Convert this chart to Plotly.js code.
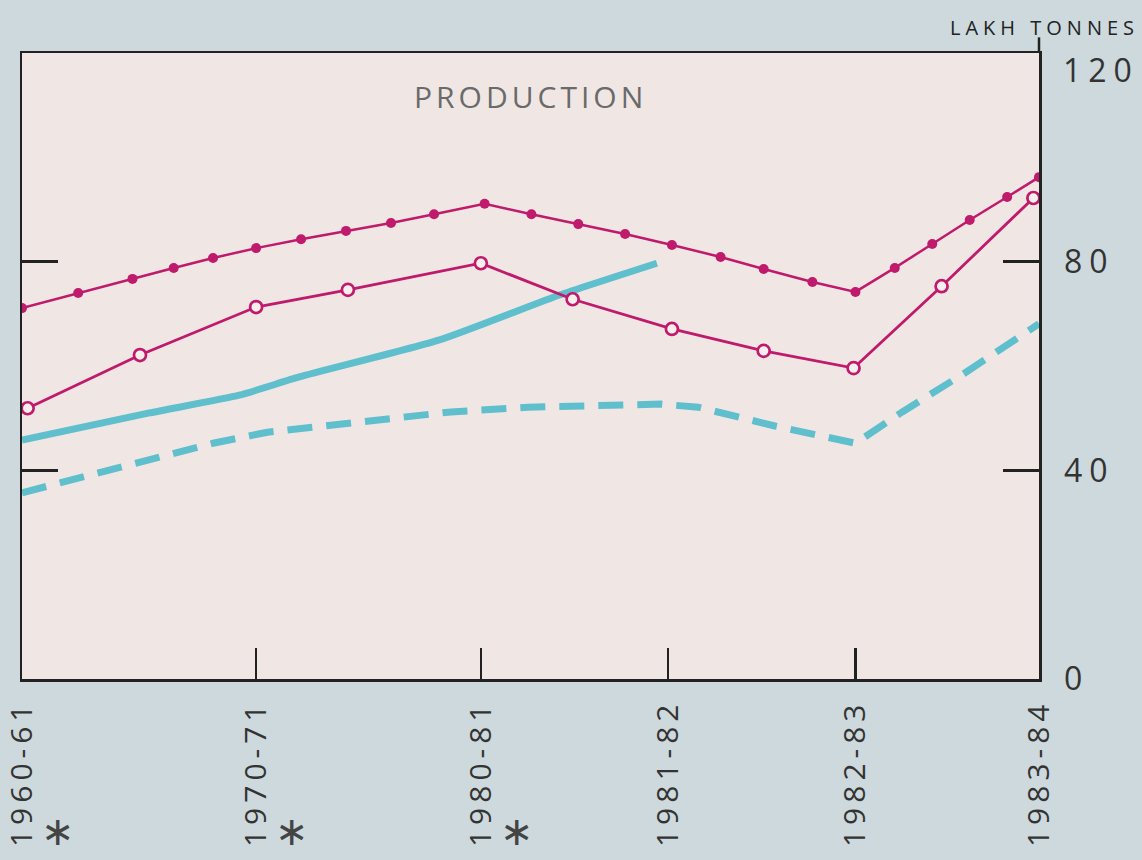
<!DOCTYPE html>
<html>
<head>
<meta charset="utf-8">
<script src="https://cdn.plot.ly/plotly-3.0.1.min.js"></script>
<style>
  html, body { margin: 0; padding: 0; background: #cdd9dc; }
  #chart { width: 1142px; height: 860px; }
  .xtick text { letter-spacing: 5px; }
  .ytick text { letter-spacing: 7px; }
  .annotation-text { letter-spacing: 4px; }
</style>
</head>
<body>
<div id="chart"></div>
<script>
// ---- data ----
const categories = ['1960-61', '1970-71', '1980-81', '1981-82', '1982-83', '1983-84'];
const categoryScale = [0, 1.25, 2.45, 3.45, 4.45, 5.43];
const footnoteMarks = ['∗', '∗', '∗', '', '', ''];

const dottedX = [0, 0.30, 0.59, 0.81, 1.02, 1.25, 1.49, 1.73, 1.97, 2.20, 2.47, 2.72, 2.97, 3.22, 3.47, 3.73, 3.96, 4.22, 4.45, 4.66, 4.86, 5.06, 5.26, 5.43];
const dottedY = [71.1, 74.0, 76.7, 78.8, 80.7, 82.6, 84.3, 85.9, 87.4, 89.1, 91.1, 89.1, 87.2, 85.3, 83.2, 80.9, 78.6, 76.1, 74.2, 78.8, 83.4, 88.0, 92.4, 96.2];

const circledX = [0.03, 0.63, 1.25, 1.74, 2.45, 2.94, 3.47, 3.96, 4.44, 4.91, 5.40];
const circledY = [51.9, 62.1, 71.3, 74.6, 79.7, 72.8, 67.1, 62.9, 59.6, 75.3, 92.2];

const solidX = [0, 0.68, 1.16, 1.48, 2.23, 2.87, 3.39];
const solidY = [45.8, 51.0, 54.4, 57.9, 65.0, 73.6, 79.7];

const dashedX = [0, 0.30, 0.68, 1.02, 1.31, 1.74, 2.29, 2.70, 3.09, 3.41, 3.61, 4.02, 4.45, 4.70, 5.04, 5.43];
const dashedY = [35.7, 38.5, 42.0, 45.2, 47.3, 49.1, 51.2, 52.1, 52.5, 52.7, 52.1, 48.5, 45.2, 51.2, 58.8, 68.1];

const yTicks = [0, 40, 80, 120];
const chartTitle = 'PRODUCTION';
const unitLabel = 'LAKH TONNES';

// ---- styles ----
const magenta = '#c01a6c';
const cyan = '#5fbfcd';
const font = 'Open Sans, Lato, sans-serif';
const yMax = yTicks[yTicks.length - 1];

const traces = [
  { x: dashedX, y: dashedY, type: 'scatter', mode: 'lines', name: 'dashed',
    line: { color: cyan, width: 7, dash: '25px,14px' } },
  { x: solidX, y: solidY, type: 'scatter', mode: 'lines', name: 'solid',
    line: { color: cyan, width: 7, shape: 'spline', smoothing: 0.5 } },
  { x: dottedX, y: dottedY, type: 'scatter', mode: 'lines+markers', name: 'dotted',
    line: { color: magenta, width: 2.5 },
    marker: { color: magenta, size: 10, symbol: 'circle' } },
  { x: circledX, y: circledY, type: 'scatter', mode: 'lines+markers', name: 'circled',
    line: { color: magenta, width: 2.8 },
    marker: { color: '#f6efec', size: 12, symbol: 'circle', line: { color: magenta, width: 2.7 } } }
];

const annotations = [
  { text: chartTitle, xref: 'paper', yref: 'paper', x: 0.5, y: 0.93, xanchor: 'center', yanchor: 'middle',
    showarrow: false, font: { family: font, size: 30, color: '#6a6a6a' } },
  { text: '<span style="letter-spacing:5px">' + unitLabel + '</span>', xref: 'paper', yref: 'paper',
    x: 1.1, y: 1.04, xanchor: 'right', yanchor: 'middle',
    showarrow: false, font: { family: font, size: 20, color: '#222' } },
  // top value label of the axis, sitting just below the top border as in the original
  { text: '<span style="letter-spacing:7px">' + String(yMax) + '</span>', xref: 'paper', yref: 'y',
    x: 1, y: yMax, xanchor: 'left', yanchor: 'middle', xshift: 22, yshift: -16,
    showarrow: false, font: { family: font, size: 32, color: '#333' } }
];
categories.forEach((c, i) => {
  if (footnoteMarks[i]) {
    annotations.push({ text: footnoteMarks[i], xref: 'x', yref: 'paper', x: categoryScale[i], xshift: 38,
      y: -0.243, xanchor: 'center', yanchor: 'middle', showarrow: false,
      font: { family: 'DejaVu Sans', size: 40, color: '#444' } });
  }
});

const layout = {
  width: 1142, height: 860,
  margin: { l: 22, r: 103, t: 53, b: 181 },
  paper_bgcolor: '#cdd9dc',
  plot_bgcolor: '#f0e7e4',
  showlegend: false,
  hovermode: false,
  xaxis: {
    range: [0, 5.43], type: 'linear',
    tickvals: categoryScale, ticktext: categories,
    tickangle: -90, ticks: 'inside', ticklen: 31, tickwidth: 2.5, tickcolor: '#222',
    ticklabelstandoff: 6, ticklabeloverflow: 'allow',
    showline: true, linecolor: '#222', linewidth: 2.5, mirror: true,
    showgrid: false, zeroline: false,
    tickfont: { family: font, size: 30, color: '#333' }
  },
  yaxis: {
    range: [0, yMax], side: 'right',
    tickvals: yTicks.slice(0, -1), ticks: 'inside', ticklen: 36, tickwidth: 2.5, tickcolor: '#222',
    ticklabelstandoff: 16, ticklabeloverflow: 'allow',
    showline: true, linecolor: '#222', linewidth: 2.5, mirror: 'ticks',
    showgrid: false, zeroline: false,
    tickfont: { family: font, size: 32, color: '#333' }
  },
  annotations: annotations,
  shapes: [
    { type: 'line', xref: 'paper', yref: 'paper', x0: 1, x1: 1, y0: 1, y1: 1.025,
      line: { color: '#222', width: 2.5 } }
  ]
};

Plotly.newPlot('chart', traces, layout, { displayModeBar: false, staticPlot: true });
</script>
</body>
</html>
